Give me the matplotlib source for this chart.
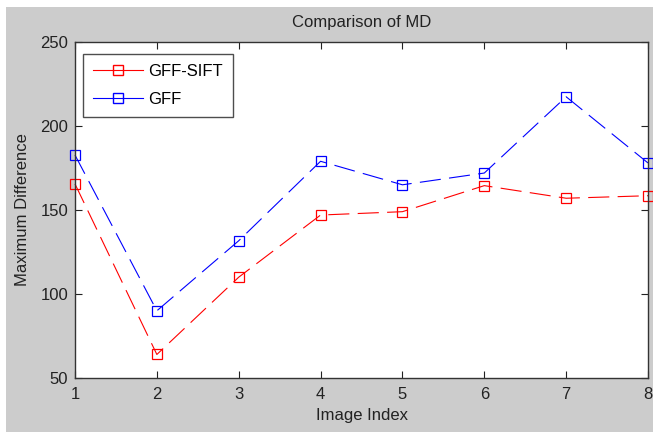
import matplotlib
matplotlib.use("Agg")
import matplotlib.pyplot as plt
from matplotlib.lines import Line2D
from matplotlib.patches import Rectangle

x = [1, 2, 3, 4, 5, 6, 7, 8]
gff_sift = [165.5, 64, 110, 147, 149, 164.5, 157, 158.5]
gff = [182.7, 90, 131.7, 179, 165, 172, 217.4, 178]
yticks = [50, 100, 150, 200, 250]

plt.rcParams['font.family'] = ['Liberation Sans', 'DejaVu Sans']
fs = 12

W, H = 653, 432
fig = plt.figure(figsize=(W / 100, H / 100), dpi=100, facecolor='white')
fig.patches.append(Rectangle((6 / W, 0), 1 - 6 / W, 1 - 7 / H, transform=fig.transFigure,
                             facecolor='#cccccc', edgecolor='none', zorder=-10))

left, right, top, bottom = 75, 648, 42, 378
aw, ah = right - left, bottom - top
ax = fig.add_axes([left / W, 1 - bottom / H, aw / W, ah / H])
ax.set_facecolor('white')

ax.plot(x, gff_sift, color='#ff0000', lw=0.8, dashes=(19, 7.5), marker='s', ms=7.5,
        mfc='none', mec='#ff0000', mew=0.9, clip_on=False)
ax.plot(x, gff, color='#0000ff', lw=0.8, dashes=(19, 7.5), marker='s', ms=7.5,
        mfc='none', mec='#0000ff', mew=0.9, clip_on=False)

ax.set_xlim(1, 8)
ax.set_ylim(50, 250)
ax.set_xticks(x)
ax.set_yticks(yticks)
ax.tick_params(direction='in', top=True, right=True, length=5, width=0.8,
               labelsize=fs, colors='#222222')
ax.tick_params(axis='x', pad=6.5)
ax.tick_params(axis='y', pad=5)
for s in ax.spines.values():
    s.set_linewidth(1.0)
    s.set_color('#333333')

ax.set_title('Comparison of MD', fontsize=fs, color='#222222', pad=11)
ax.set_xlabel('Image Index', fontsize=fs, color='#222222', labelpad=4)
ax.set_ylabel('Maximum Difference', fontsize=fs, color='#222222', labelpad=7)

handles = [Line2D([], [], color='#ff0000', lw=0.8, marker='s', ms=7.5, mfc='none', mec='#ff0000'),
           Line2D([], [], color='#0000ff', lw=0.8, marker='s', ms=7.5, mfc='none', mec='#0000ff')]
leg = ax.legend(handles, ['GFF-SIFT', 'GFF'], loc='upper left', fontsize=fs,
                bbox_to_anchor=(8 / aw, 1 - 12 / ah), borderaxespad=0,
                handlelength=3.0, frameon=True, fancybox=False,
                borderpad=0.6, labelspacing=0.75, handletextpad=0.3)
leg.get_frame().set_edgecolor('#222222')
leg.get_frame().set_linewidth(1.0)

fig.savefig('out.png', dpi=100, facecolor=fig.get_facecolor())
